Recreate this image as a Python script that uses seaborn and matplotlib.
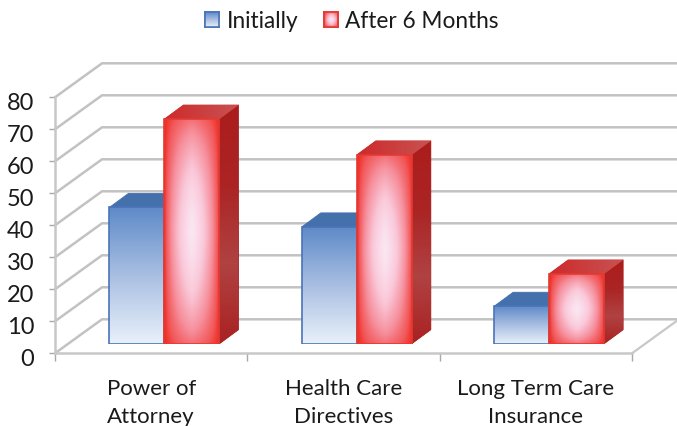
import numpy as np
import pandas as pd
import matplotlib
matplotlib.use('Agg')
import matplotlib.pyplot as plt
import seaborn as sns
from matplotlib.colors import LinearSegmentedColormap
from matplotlib.patches import Patch, Polygon
from matplotlib.transforms import ScaledTranslation

# Values
categories = ['Power of\nAttorney', 'Health Care\nDirectives', 'Long Term Care\nInsurance']
initially = [42.6, 36.5, 11.7]
after_6_months = [70.2, 59.0, 21.8]
series_names = ['Initially', 'After 6 Months']
y_ticks = [0, 10, 20, 30, 40, 50, 60, 70, 80]

W, H = 677, 427

sns.set_theme(style='white')
plt.rcParams['font.family'] = ['Lato', 'DejaVu Sans']
plt.rcParams['text.color'] = '#1a1a1a'
plt.rcParams['xtick.labelcolor'] = '#1a1a1a'
plt.rcParams['ytick.labelcolor'] = '#1a1a1a'

df = pd.DataFrame({
    'Category': categories * 2,
    'Series': [series_names[0]] * 3 + [series_names[1]] * 3,
    'Value': initially + after_6_months,
})


def px_rect(left, right, top, bottom):
    return [left / W, 1 - bottom / H, (right - left) / W, (bottom - top) / H]


blue_cmap = LinearSegmentedColormap.from_list('b', ['#e8f0fa', '#a9bfe2', '#5f8bc9'])
red_cmap = LinearSegmentedColormap.from_list(
    'r', [(0, '#fbe6f2'), (0.35, '#fac7d8'), (0.68, '#f68f9c'), (0.9, '#f2585a'), (1, '#f02a20')])
red_side = LinearSegmentedColormap.from_list('rs', ['#ab1d1d', '#ab2424', '#b04242', '#aa2222'])
red_top = LinearSegmentedColormap.from_list('rt', ['#cf2a2a', '#c85252'])


def blue_img(n=64):
    return np.linspace(1, 0, n).reshape(-1, 1)


def red_img(n=128):
    # soft rectangular glow, palest in the middle
    u, v = np.meshgrid(np.linspace(-1, 1, n), np.linspace(-1, 1, n))
    return 1 - (1 - np.abs(u) ** 1.3) * (1 - 0.8 * np.abs(v) ** 1.5)


def paint(ax, patch, img, cmap, bounds):
    # gradient image clipped to a patch
    xlim, ylim = ax.get_xlim(), ax.get_ylim()
    im = ax.imshow(img, cmap=cmap, vmin=0, vmax=1, extent=bounds, aspect='auto',
                   origin='upper', interpolation='bilinear', zorder=patch.get_zorder())
    im.set_clip_path(patch)
    ax.set_xlim(xlim)
    ax.set_ylim(ylim)


fig = plt.figure(figsize=(W / 100, H / 100), dpi=100)

# Front plane of the box: walls, ticks and labels
ax = fig.add_axes(px_rect(55, 632, 98.3, 354.3))
ax.set_xlim(-0.5, 2.5)
ax.set_ylim(0, 80)
ax.patch.set_alpha(0)

x_unit = (632 - 55) / 3
y_unit = (354.3 - 98.3) / 80
depth_x, depth_y = 47 / x_unit, 34 / y_unit

grid_color = '#c2c2c2'
for t in y_ticks:
    ax.plot([-0.5, -0.5 + depth_x, 2.5 + depth_x], [t, t + depth_y, t + depth_y],
            color=grid_color, lw=1.8, clip_on=False, zorder=1, solid_joinstyle='miter')
ax.plot([2.5, 2.5 + depth_x], [0, depth_y], color='#c8c8c8', lw=1.6, clip_on=False, zorder=1)

ax.set_yticks(y_ticks)
ax.set_xticks([-0.5, 0.5, 1.5, 2.5])
ax.set_xticklabels([])
ax.set_xticks([0, 1, 2], labels=categories, minor=True)
ax.tick_params(axis='x', which='major', length=6, width=1, color='#a8a8a8', bottom=True)
ax.tick_params(axis='x', which='minor', length=0, pad=17.5, labelsize=16)
ax.tick_params(axis='y', length=4, width=1, color='#a8a8a8', left=True, pad=11, labelsize=17)
sns.despine(ax=ax)
for side in ['left', 'bottom']:
    ax.spines[side].set_color('#c8c8c8')
    ax.spines[side].set_linewidth(1.8)
for lab in ax.get_xticklabels(minor=True):
    lab.set_linespacing(1.52)
# tick numbers sit a little under their ticks
nudge = ScaledTranslation(0, -3.5 / 100, fig.dpi_scale_trans)
for lab in ax.get_yticklabels():
    lab.set_transform(lab.get_transform() + nudge)

# Plane of the bars, set back from the front edge
bar_ax = fig.add_axes(px_rect(55 + 13.3, 632 + 13.3, 98.3 - 9.6, 354.3 - 9.6))
sns.barplot(data=df, x='Category', y='Value', hue='Series', hue_order=series_names,
            width=0.572, gap=0, dodge=True, legend=False, ax=bar_ax,
            palette=['#5f8bc9', '#f2291f'])
bar_ax.set_xlim(-0.5, 2.5)
bar_ax.set_ylim(0, 80)
bar_ax.axis('off')

bar_dx, bar_dy = 19 / x_unit, 14 / y_unit
for k, container in enumerate(bar_ax.containers):
    z = 3 + k * 3
    for bar in container:
        x0, w, h = bar.get_x(), bar.get_width(), bar.get_height()
        x1 = x0 + w
        side = Polygon([(x1, 0), (x1 + bar_dx, bar_dy), (x1 + bar_dx, h + bar_dy), (x1, h)],
                       closed=True, lw=0.6, zorder=z,
                       fc='#3f6aa6' if k == 0 else '#ad2a2a',
                       ec='#3f6aa6' if k == 0 else '#a82222')
        top = Polygon([(x0, h), (x0 + bar_dx, h + bar_dy), (x1 + bar_dx, h + bar_dy), (x1, h)],
                      closed=True, lw=0.6, zorder=z,
                      fc='#4470ab' if k == 0 else '#c83a3a',
                      ec='#4470ab' if k == 0 else '#c22a2a')
        bar_ax.add_patch(side)
        bar_ax.add_patch(top)
        if k == 1:
            paint(bar_ax, side, np.linspace(0, 1, 64).reshape(-1, 1), red_side,
                  (x1, x1 + bar_dx, 0, h + bar_dy))
            paint(bar_ax, top, np.linspace(0, 1, 64).reshape(1, -1), red_top,
                  (x0, x1 + bar_dx, h, h + bar_dy))
        bar.set_edgecolor('#4a74b8' if k == 0 else '#e23a34')
        bar.set_linewidth(1.2)
        bar.set_facecolor('none')
        face = Polygon([(x0, 0), (x1, 0), (x1, h), (x0, h)], closed=True, lw=0, fc='none', zorder=z + 1)
        bar_ax.add_patch(face)
        if k == 0:
            paint(bar_ax, face, blue_img(), blue_cmap, (x0, x1, 0, h))
        else:
            paint(bar_ax, face, red_img(), red_cmap, (x0, x1, 0, h))
        bar.set_zorder(z + 2)

# Legend across the top, gradient swatches laid over its handles
handles = [Patch(fc='#a9bfe2', ec='#4a74b8', lw=1.2), Patch(fc='#f8a9b6', ec='#e23a34', lw=1.2)]
leg = fig.legend(handles, series_names, loc='center', bbox_to_anchor=(352 / W, 1 - 22 / H),
                 ncol=2, frameon=False, fontsize=16.3, handlelength=0.62, handleheight=0.62,
                 handletextpad=0.35, columnspacing=1.1, borderpad=0)
fig.canvas.draw()
for patch, img, cmap in zip(leg.get_patches(), [blue_img(), red_img()], [blue_cmap, red_cmap]):
    box = patch.get_window_extent()
    sw = fig.add_axes([box.x0 / W, box.y0 / H, box.width / W, box.height / H], zorder=10)
    sw.imshow(img, cmap=cmap, vmin=0, vmax=1, aspect='auto', interpolation='bilinear')
    sw.set_xticks([])
    sw.set_yticks([])
    for s in sw.spines.values():
        s.set_color(patch.get_edgecolor())
        s.set_linewidth(1.2)

fig.savefig('out.png', dpi=100)
